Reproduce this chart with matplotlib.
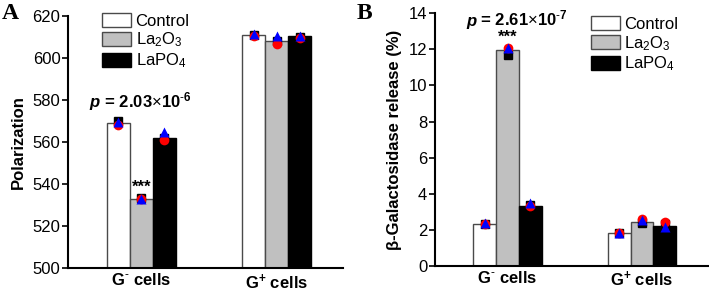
import matplotlib
matplotlib.use("Agg")
import matplotlib.pyplot as plt
import numpy as np

plt.rcParams["font.family"] = ["Liberation Sans", "DejaVu Sans"]
plt.rcParams["mathtext.fontset"] = "custom"
plt.rcParams["mathtext.rm"] = "Liberation Sans"
plt.rcParams["mathtext.bf"] = "Liberation Sans:bold"
plt.rcParams["mathtext.it"] = "Liberation Sans:italic"

# ---- data (rows: Control, La2O3, LaPO4 ; cols: G- cells, G+ cells)
GROUPS = [r"G$^{\mathbf{\text{-}}}$ cells", r"G$^{\mathbf{+}}$ cells"]
SERIES = ["Control", r"La$_2$O$_3$", r"LaPO$_4$"]

POL_MEAN = [[569.0, 611.0], [533.0, 608.0], [562.0, 610.5]]
POL_SQ = [[570.0, 611.0], [533.5, 608.0], [562.0, 610.0]]
POL_CI = [[568.0, 610.5], [533.0, 606.5], [561.0, 609.5]]
POL_TR = [[569.5, 611.5], [533.0, 610.5], [565.0, 610.5]]

GAL_MEAN = [[2.3, 1.8], [11.95, 2.42], [3.35, 2.22]]
GAL_SQ = [[2.35, 1.8], [11.7, 2.4], [3.4, 2.3]]
GAL_CI = [[2.35, 1.85], [12.05, 2.6], [3.3, 2.45]]
GAL_TR = [[2.4, 1.8], [12.05, 2.55], [3.5, 2.15]]

FILLS = ["white", "#c0c0c0", "black"]
EDGES = ["#4a4a4a", "#4a4a4a", "black"]
W = 0.17
FS = 12


def panel(ax, mean, sq, ci, tr, ylim, yticks, ylabel, base):
    x = np.arange(len(GROUPS))
    for i, name in enumerate(SERIES):
        xs = x + (i - 1) * W
        ax.bar(xs, np.array(mean[i]) - base, W, bottom=base, color=FILLS[i],
               edgecolor=EDGES[i], linewidth=1.0, label=name, zorder=2)
        ax.plot(xs, sq[i], "s", color="black", ms=5.5, ls="none", zorder=3)
        ax.plot(xs, ci[i], "o", color="#ff0000", ms=7, ls="none", mec="none", zorder=4)
        ax.plot(xs, tr[i], "^", color="#0000ff", ms=7, ls="none", mec="none", zorder=5)
    ax.set_xlim(-0.54, 1.49)
    ax.set_ylim(*ylim)
    ax.set_yticks(yticks)
    ax.set_xticks(x)
    ax.set_xticklabels(GROUPS, fontsize=FS, fontweight="bold")
    ax.tick_params(axis="x", length=0, pad=3)
    ax.tick_params(axis="y", length=4, width=1.2, labelsize=FS, pad=1.5)
    ax.set_ylabel(ylabel, fontsize=FS, fontweight="bold", labelpad=5)
    for s in ("top", "right"):
        ax.spines[s].set_visible(False)
    for s in ("left", "bottom"):
        ax.spines[s].set_linewidth(1.5)


def ptext(ax, x, y, val, exp):
    t = ax.text(x, y, "p", fontsize=FS, fontweight="bold", style="italic",
                ha="left", va="baseline", family="Liberation Sans")
    ax.annotate(r" = %s$\times$10$^{\mathbf{\text{-}%s}}$" % (val, exp), xy=(1, 0),
                xycoords=t, va="bottom", ha="left", fontsize=FS, fontweight="bold")


fig = plt.figure(figsize=(7.09, 2.92), dpi=100)
axA = fig.add_axes([0.096, 0.082, 0.388, 0.863])
axB = fig.add_axes([0.6135, 0.089, 0.385, 0.866])

panel(axA, POL_MEAN, POL_SQ, POL_CI, POL_TR, (500, 620), range(500, 621, 20),
      "Polarization", 500)
panel(axB, GAL_MEAN, GAL_SQ, GAL_CI, GAL_TR, (0, 14), range(0, 15, 2),
      "β-Galactosidase release (%)", 0)

ptext(axA, -0.38, 576.5, "2.03", "6")
ptext(axB, -0.31, 13.3, "2.61", "7")
axA.text(0, 535.0, "***", ha="center", va="bottom", fontsize=FS, fontweight="bold")
axB.text(0, 12.25, "***", ha="center", va="bottom", fontsize=FS, fontweight="bold")

for ax, anchor in ((axA, (0.124, 1.012)), (axB, (0.571, 0.988))):
    ax.legend(loc="upper left", bbox_to_anchor=anchor, frameon=False, fontsize=FS,
              borderpad=0, borderaxespad=0, handlelength=1.75, handleheight=0.9,
              handletextpad=0.25, labelspacing=0.12)

fig.text(0.003, 0.99, "A", fontsize=17, fontweight="bold", family="Liberation Serif",
         ha="left", va="top")
fig.text(0.503, 0.99, "B", fontsize=17, fontweight="bold", family="Liberation Serif",
         ha="left", va="top")

fig.savefig("out.png", dpi=100)
